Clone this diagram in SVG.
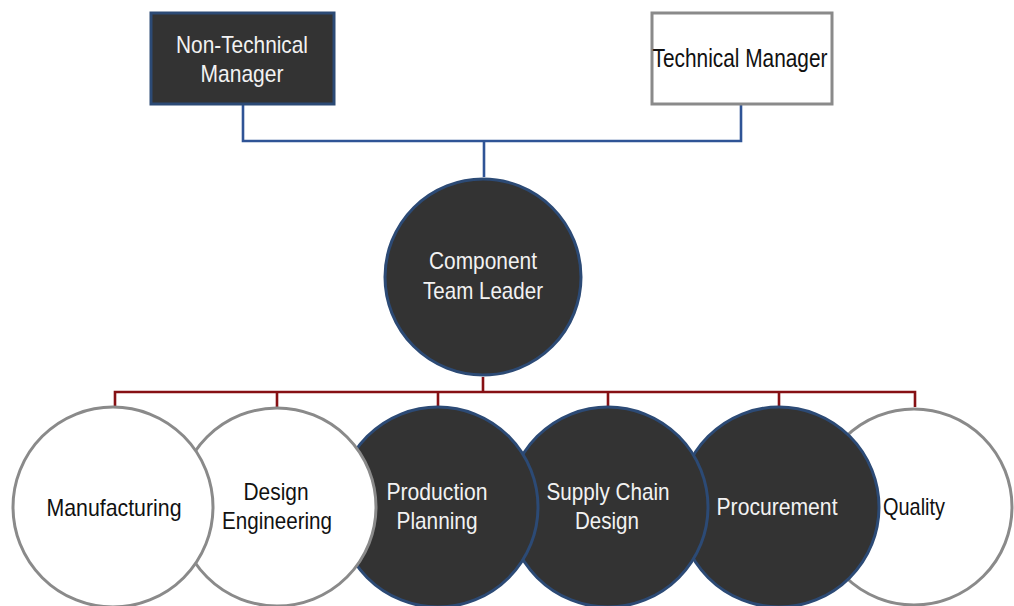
<svg xmlns="http://www.w3.org/2000/svg" width="1014" height="606" viewBox="0 0 1014 606">
<style>
.t{font-family:"Liberation Sans",Arial,sans-serif;font-size:24px;text-anchor:middle}
.lt{fill:#f2f2f2}
.dk{fill:#111}
.dark{fill:#333333;stroke:#2c4a75;stroke-width:3}
.light{fill:#ffffff;stroke:#8a8a8a;stroke-width:3}
.blue{fill:none;stroke:#2f5496;stroke-width:2.6}
.red{fill:none;stroke:#861014;stroke-width:2.6}
</style>
<rect width="1014" height="606" fill="#ffffff"/>
<g id="connectors">
<path class="blue" d="M243 104V141H741V104M484 141V177"/>
<path class="red" d="M483 377V392M115 407V392H915V407M277 392V407M438 392V407M608 392V407M779 392V407"/>
</g>
<g id="non-technical-manager">
<rect class="dark" x="151" y="13" width="183" height="91"/>
<text class="t lt" x="242" y="53" textLength="132" lengthAdjust="spacingAndGlyphs">Non-Technical</text>
<text class="t lt" x="242" y="82" textLength="83" lengthAdjust="spacingAndGlyphs">Manager</text>
</g>
<g id="technical-manager">
<rect class="light" x="652" y="13" width="180" height="91"/>
<text class="t dk" x="740" y="67" textLength="175" lengthAdjust="spacingAndGlyphs" style="font-size:25px">Technical Manager</text>
</g>
<g id="component-team-leader">
<circle class="dark" cx="483" cy="277" r="98"/>
<text class="t lt" x="483" y="269" textLength="108" lengthAdjust="spacingAndGlyphs">Component</text>
<text class="t lt" x="483" y="299" textLength="120" lengthAdjust="spacingAndGlyphs">Team Leader</text>
</g>
<g id="quality">
<circle class="light" cx="914" cy="507" r="98"/>
<text class="t dk" x="914" y="515" textLength="62" lengthAdjust="spacingAndGlyphs">Quality</text>
</g>
<g id="procurement">
<circle class="dark" cx="779" cy="507" r="100"/>
<text class="t lt" x="777" y="515" textLength="121" lengthAdjust="spacingAndGlyphs">Procurement</text>
</g>
<g id="supply-chain-design">
<circle class="dark" cx="608" cy="507" r="100"/>
<text class="t lt" x="608" y="500" textLength="123" lengthAdjust="spacingAndGlyphs">Supply Chain</text>
<text class="t lt" x="607" y="529" textLength="64" lengthAdjust="spacingAndGlyphs">Design</text>
</g>
<g id="production-planning">
<circle class="dark" cx="438" cy="507" r="100"/>
<text class="t lt" x="437" y="500" textLength="101" lengthAdjust="spacingAndGlyphs">Production</text>
<text class="t lt" x="437" y="529" textLength="81" lengthAdjust="spacingAndGlyphs">Planning</text>
</g>
<g id="design-engineering">
<circle class="light" cx="277" cy="507" r="99"/>
<text class="t dk" x="276" y="500" textLength="65" lengthAdjust="spacingAndGlyphs">Design</text>
<text class="t dk" x="277" y="529" textLength="110" lengthAdjust="spacingAndGlyphs">Engineering</text>
</g>
<g id="manufacturing">
<circle class="light" cx="113" cy="507" r="100"/>
<text class="t dk" x="114" y="516" textLength="135" lengthAdjust="spacingAndGlyphs">Manufacturing</text>
</g>
</svg>
